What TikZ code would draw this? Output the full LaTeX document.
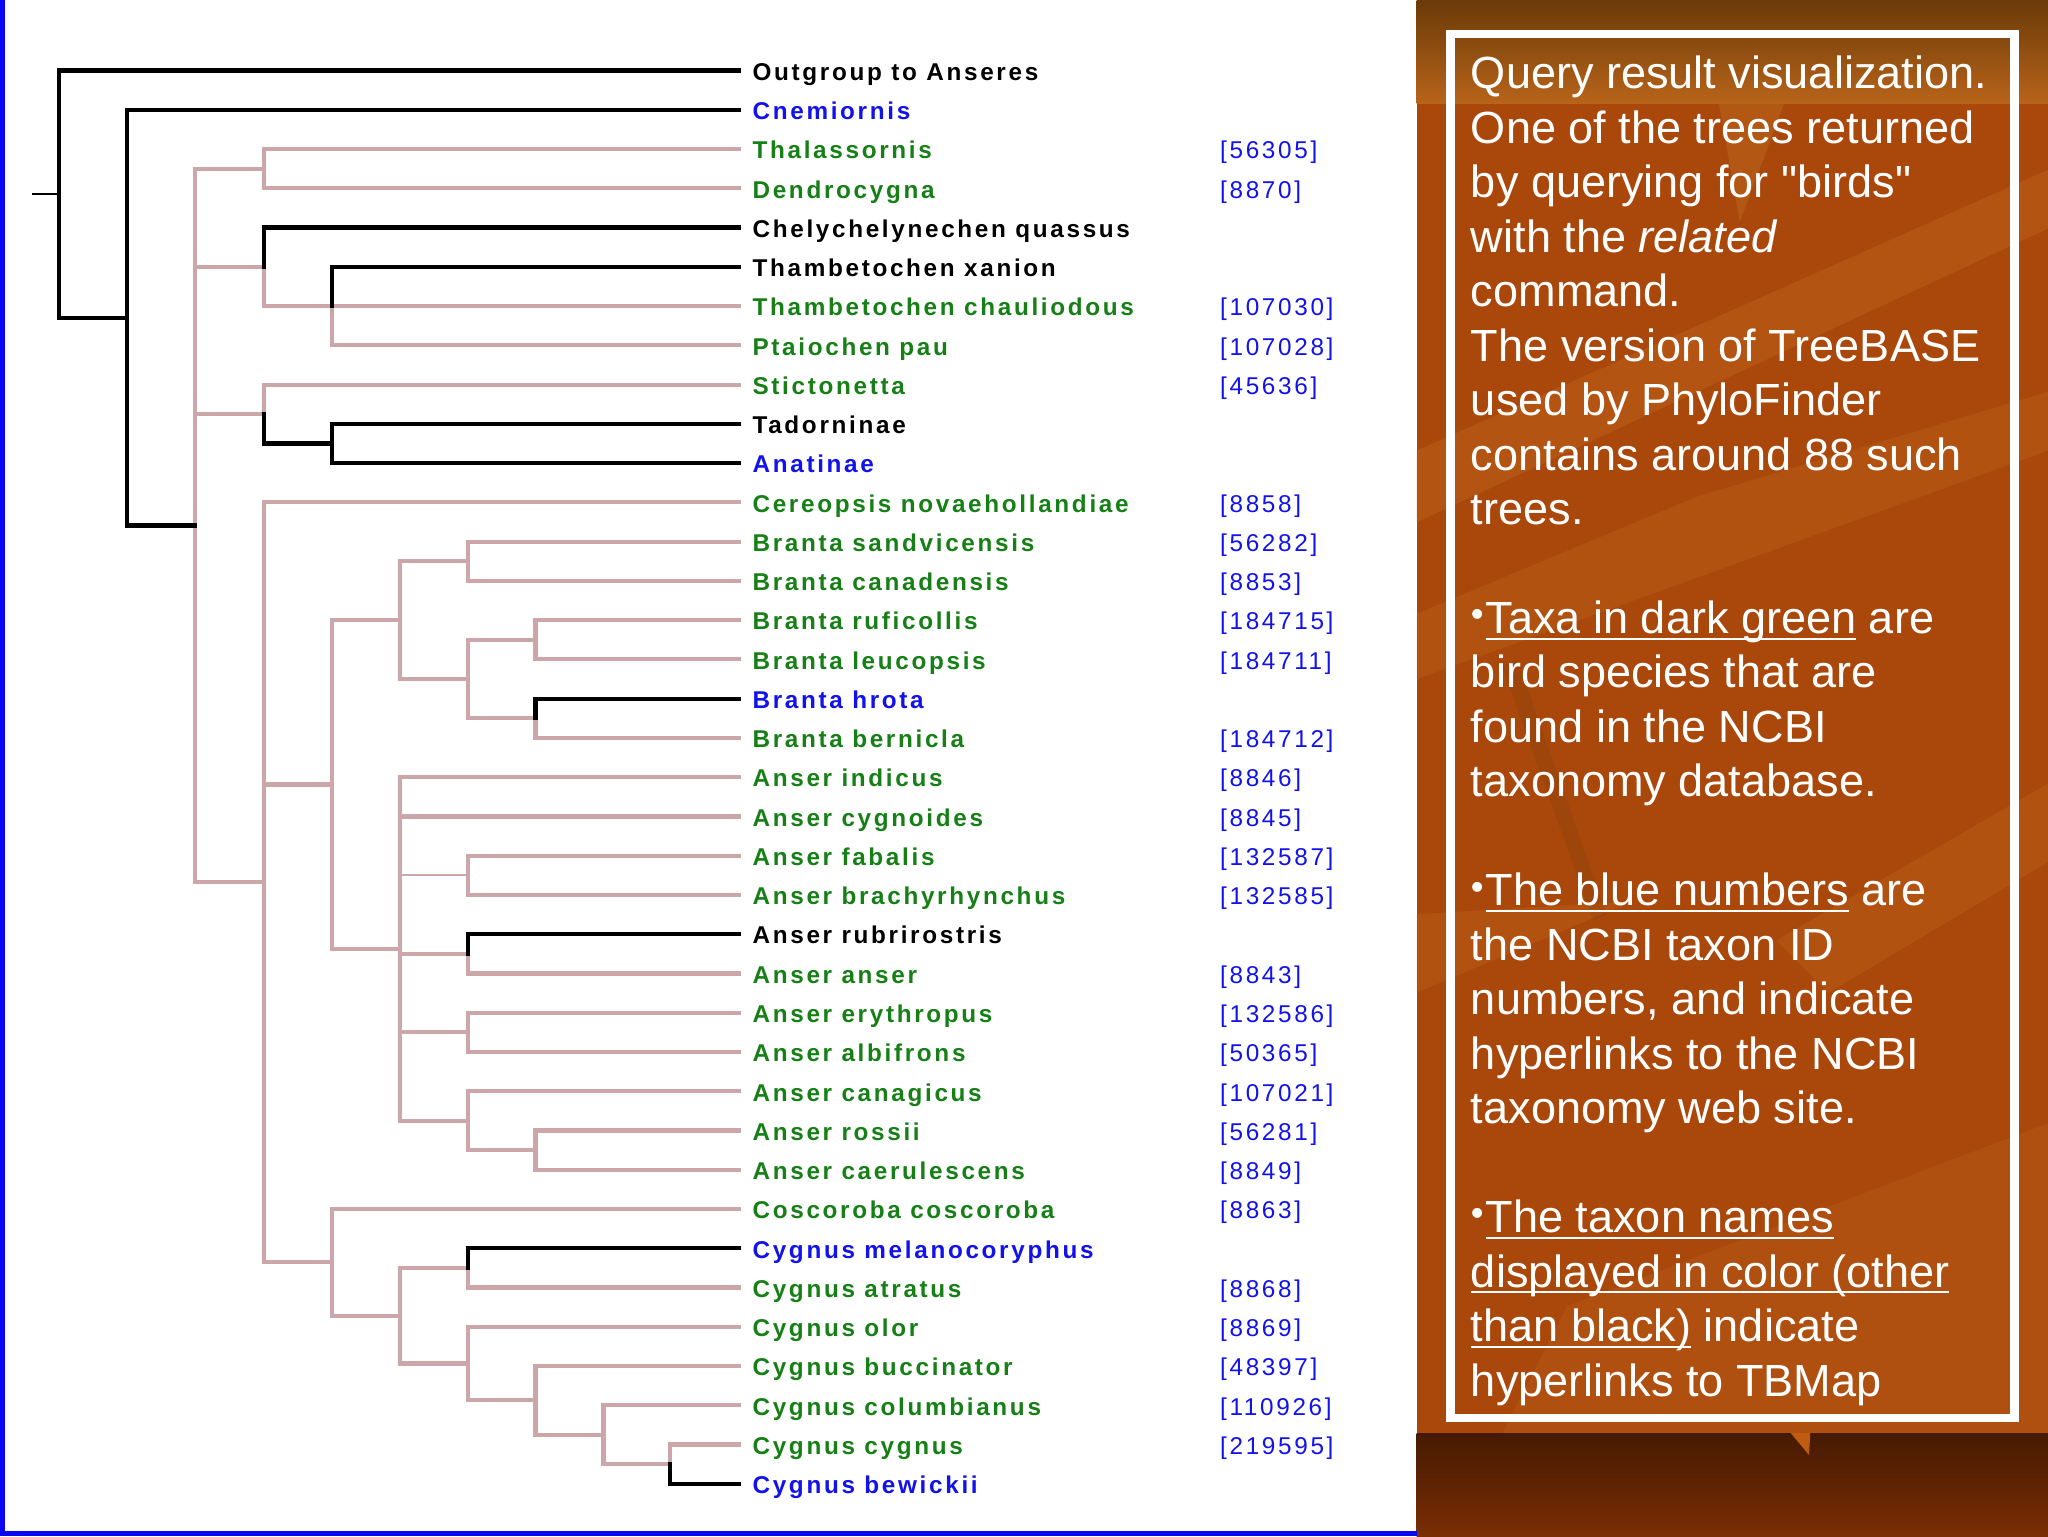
\documentclass[tikz,border=0pt]{standalone}
\usepackage{fontspec}
\setmainfont{Liberation Sans}
\newfontfamily\lblfont[LetterSpace=11]{Liberation Sans}
\definecolor{pinkline}{RGB}{205,166,170}
\definecolor{leafgreen}{RGB}{22,128,22}
\definecolor{linkblue}{RGB}{18,18,235}
\definecolor{framebl}{RGB}{8,8,245}
\definecolor{panelbase}{RGB}{170,72,12}
\definecolor{paneltop}{RGB}{106,58,8}
\definecolor{panelmid}{RGB}{184,100,26}
\definecolor{panellight}{RGB}{200,112,34}
\definecolor{panellow}{RGB}{192,92,18}
\definecolor{banddark}{RGB}{70,26,2}
\definecolor{bandlow}{RGB}{122,46,4}
\newsavebox\ulbox
\newcommand\ulx[1]{\sbox\ulbox{#1}\rlap{\rule[-4.8pt]{\wd\ulbox}{1.5pt}}\usebox\ulbox}
\newcommand\bul{\raisebox{5.2pt}{\fontsize{28}{28}\selectfont\textbullet}\kern1.5pt}
\newcommand\ry[1]{54+#1*30.056}
\newcommand\ly[1]{68+#1*41.7}
\tikzset{
  br/.style={line width=3.2pt, line cap=rect},
  bk/.style={br, draw=black},
  pk/.style={br, draw=pinkline},
  lbl/.style={anchor=west, inner sep=0pt, text height=17pt, text depth=2pt,
    font=\lblfont\bfseries\fontsize{18.6}{20}\selectfont},
  num/.style={anchor=west, inner sep=0pt, text height=17pt, text depth=2pt,
    font=\lblfont\fontsize{18.6}{20}\selectfont, text=linkblue},
  note/.style={anchor=base west, inner sep=0pt, text=white,
    font=\fontsize{34.5}{41.7}\selectfont}
}
\begin{document}
\begin{tikzpicture}[x=1pt,y=-1pt]
\useasboundingbox (0,0) rectangle (1568,1176);
\fill[white] (0,0) rectangle (1568,1176);
% ---------- right panel background ----------
\fill[panelbase] (1084.5,0) rectangle (1568,1097.6);
\shade[top color=paneltop, bottom color=panelmid] (1084.5,0) rectangle (1568,79);
\fill[panelmid, opacity=0.6] (1316,79) -- (1366,79) -- (1332,170) -- cycle;
\fill[panellight, opacity=0.3] (1084.5,345) -- (1568,130) -- (1568,175) -- (1084.5,400) -- cycle;
\fill[panellight, opacity=0.25] (1084.5,470) -- (1300,380) -- (1568,300) -- (1568,345) -- (1084.5,520) -- cycle;
\fill[panellight, opacity=0.25] (1360,720) -- (1568,600) -- (1568,660) -- (1400,760) -- cycle;
\fill[panellight, opacity=0.25] (1084.5,700) -- (1250,690) -- (1084.5,760) -- cycle;
\fill[panellight, opacity=0.22] (1200,1000) -- (1568,860) -- (1568,1097.6) -- (1150,1097.6) -- cycle;
\fill[paneltop, opacity=0.18] (1150,510) -- (1162,505) -- (1230,700) -- (1220,705) -- cycle;
\shade[top color=banddark, bottom color=bandlow] (1084.5,1097.6) rectangle (1568,1176);
\fill[panellow] (1371,1097.2) -- (1386,1097.2) -- (1385,1114) -- cycle;
\draw[white, line width=6.5pt] (1110.5,26) rectangle (1542.5,1085.6);
% ---------- blue border of the tree panel ----------
\fill[framebl] (0,0) rectangle (3.5,1176);
\fill[framebl] (0,1172) rectangle (1084.5,1176);
% ---------- taxon labels ----------
\node[lbl, text=black]     (L0)  at (576,{\ry{0}})  {Outgroup to Anseres};
\node[lbl, text=linkblue]  (L1)  at (576,{\ry{1}})  {Cnemiornis};
\node[lbl, text=leafgreen] (L2)  at (576,{\ry{2}})  {Thalassornis};
\node[lbl, text=leafgreen] (L3)  at (576,{\ry{3}})  {Dendrocygna};
\node[lbl, text=black]     (L4)  at (576,{\ry{4}})  {Chelychelynechen quassus};
\node[lbl, text=black]     (L5)  at (576,{\ry{5}})  {Thambetochen xanion};
\node[lbl, text=leafgreen] (L6)  at (576,{\ry{6}})  {Thambetochen chauliodous};
\node[lbl, text=leafgreen] (L7)  at (576,{\ry{7}})  {Ptaiochen pau};
\node[lbl, text=leafgreen] (L8)  at (576,{\ry{8}})  {Stictonetta};
\node[lbl, text=black]     (L9)  at (576,{\ry{9}})  {Tadorninae};
\node[lbl, text=linkblue]  (L10) at (576,{\ry{10}}) {Anatinae};
\node[lbl, text=leafgreen] (L11) at (576,{\ry{11}}) {Cereopsis novaehollandiae};
\node[lbl, text=leafgreen] (L12) at (576,{\ry{12}}) {Branta sandvicensis};
\node[lbl, text=leafgreen] (L13) at (576,{\ry{13}}) {Branta canadensis};
\node[lbl, text=leafgreen] (L14) at (576,{\ry{14}}) {Branta ruficollis};
\node[lbl, text=leafgreen] (L15) at (576,{\ry{15}}) {Branta leucopsis};
\node[lbl, text=linkblue]  (L16) at (576,{\ry{16}}) {Branta hrota};
\node[lbl, text=leafgreen] (L17) at (576,{\ry{17}}) {Branta bernicla};
\node[lbl, text=leafgreen] (L18) at (576,{\ry{18}}) {Anser indicus};
\node[lbl, text=leafgreen] (L19) at (576,{\ry{19}}) {Anser cygnoides};
\node[lbl, text=leafgreen] (L20) at (576,{\ry{20}}) {Anser fabalis};
\node[lbl, text=leafgreen] (L21) at (576,{\ry{21}}) {Anser brachyrhynchus};
\node[lbl, text=black]     (L22) at (576,{\ry{22}}) {Anser rubrirostris};
\node[lbl, text=leafgreen] (L23) at (576,{\ry{23}}) {Anser anser};
\node[lbl, text=leafgreen] (L24) at (576,{\ry{24}}) {Anser erythropus};
\node[lbl, text=leafgreen] (L25) at (576,{\ry{25}}) {Anser albifrons};
\node[lbl, text=leafgreen] (L26) at (576,{\ry{26}}) {Anser canagicus};
\node[lbl, text=leafgreen] (L27) at (576,{\ry{27}}) {Anser rossii};
\node[lbl, text=leafgreen] (L28) at (576,{\ry{28}}) {Anser caerulescens};
\node[lbl, text=leafgreen] (L29) at (576,{\ry{29}}) {Coscoroba coscoroba};
\node[lbl, text=linkblue]  (L30) at (576,{\ry{30}}) {Cygnus melanocoryphus};
\node[lbl, text=leafgreen] (L31) at (576,{\ry{31}}) {Cygnus atratus};
\node[lbl, text=leafgreen] (L32) at (576,{\ry{32}}) {Cygnus olor};
\node[lbl, text=leafgreen] (L33) at (576,{\ry{33}}) {Cygnus buccinator};
\node[lbl, text=leafgreen] (L34) at (576,{\ry{34}}) {Cygnus columbianus};
\node[lbl, text=leafgreen] (L35) at (576,{\ry{35}}) {Cygnus cygnus};
\node[lbl, text=linkblue]  (L36) at (576,{\ry{36}}) {Cygnus bewickii};
% ---------- NCBI ids ----------
\node[num] (I2)  at (934,{\ry{2}})  {[56305]};
\node[num] (I3)  at (934,{\ry{3}})  {[8870]};
\node[num] (I6)  at (934,{\ry{6}})  {[107030]};
\node[num] (I7)  at (934,{\ry{7}})  {[107028]};
\node[num] (I8)  at (934,{\ry{8}})  {[45636]};
\node[num] (I11) at (934,{\ry{11}}) {[8858]};
\node[num] (I12) at (934,{\ry{12}}) {[56282]};
\node[num] (I13) at (934,{\ry{13}}) {[8853]};
\node[num] (I14) at (934,{\ry{14}}) {[184715]};
\node[num] (I15) at (934,{\ry{15}}) {[184711]};
\node[num] (I17) at (934,{\ry{17}}) {[184712]};
\node[num] (I18) at (934,{\ry{18}}) {[8846]};
\node[num] (I19) at (934,{\ry{19}}) {[8845]};
\node[num] (I20) at (934,{\ry{20}}) {[132587]};
\node[num] (I21) at (934,{\ry{21}}) {[132585]};
\node[num] (I23) at (934,{\ry{23}}) {[8843]};
\node[num] (I24) at (934,{\ry{24}}) {[132586]};
\node[num] (I25) at (934,{\ry{25}}) {[50365]};
\node[num] (I26) at (934,{\ry{26}}) {[107021]};
\node[num] (I27) at (934,{\ry{27}}) {[56281]};
\node[num] (I28) at (934,{\ry{28}}) {[8849]};
\node[num] (I29) at (934,{\ry{29}}) {[8863]};
\node[num] (I31) at (934,{\ry{31}}) {[8868]};
\node[num] (I32) at (934,{\ry{32}}) {[8869]};
\node[num] (I33) at (934,{\ry{33}}) {[48397]};
\node[num] (I34) at (934,{\ry{34}}) {[110926]};
\node[num] (I35) at (934,{\ry{35}}) {[219595]};
% ---------- leaf tips ----------
\foreach \i in {0,...,36} { \coordinate (T\i) at ([xshift=-10pt]L\i.west); }
% ---------- internal nodes ----------
\coordinate (R)   at (45,{\ry{3.1475}});
\coordinate (stub) at (24.5,{\ry{3.1475}});
\coordinate (N1)  at (97,{\ry{6.295}});
\coordinate (N2)  at (149,{\ry{11.59}});
\coordinate (N3)  at (202,{\ry{2.5}});
\coordinate (N4)  at (202,{\ry{5}});
\coordinate (N5)  at (254,{\ry{6}});
\coordinate (N6)  at (202,{\ry{8.75}});
\coordinate (N7)  at (254,{\ry{9.5}});
\coordinate (N8)  at (202,{\ry{20.68}});
\coordinate (N9)  at (254,{\ry{18.1875}});
\coordinate (N10) at (254,{\ry{30.359}});
\coordinate (N11) at (306,{\ry{14}});
\coordinate (N12) at (358,{\ry{12.5}});
\coordinate (N13) at (358,{\ry{15.5}});
\coordinate (N14) at (410,{\ry{14.5}});
\coordinate (N15) at (410,{\ry{16.5}});
\coordinate (N16) at (306,{\ry{22.375}});
\coordinate (N17) at (358,{\ry{20.5}});
\coordinate (N18) at (358,{\ry{22.5}});
\coordinate (N19) at (358,{\ry{24.5}});
\coordinate (N20) at (358,{\ry{26.75}});
\coordinate (N21) at (410,{\ry{27.5}});
\coordinate (N22) at (306,{\ry{31.71875}});
\coordinate (N23) at (358,{\ry{30.5}});
\coordinate (N24) at (358,{\ry{32.9375}});
\coordinate (N25) at (410,{\ry{33.875}});
\coordinate (N26) at (462,{\ry{34.75}});
\coordinate (N27) at (513,{\ry{35.5}});
% ---------- pink branches ----------
\draw[pinkline, line width=1.3pt] (N16) |- (N17);
\foreach \a/\b in {N2/N3, N2/N4, N2/N6, N2/N8, N3/T2, N3/T3, N4/N5, N5/T6, N5/T7,
  N6/T8, N8/T11, N8/N9, N8/N10, N9/N11, N9/N16, N11/N12, N11/N13, N12/T12, N12/T13,
  N13/N14, N13/N15, N14/T14, N14/T15, N15/T17, N16/T18, N16/T19, N16/N18, N16/N19,
  N16/N20, N17/T20, N17/T21, N18/T23, N19/T24, N19/T25, N20/T26, N20/N21, N21/T27,
  N21/T28, N10/T29, N10/N22, N22/N23, N22/N24, N23/T31, N24/T32, N24/N25, N25/T33,
  N25/N26, N26/T34, N26/N27, N27/T35}
  { \draw[pk] (\a) |- (\b); }
% ---------- black branches ----------
\draw[black, line width=1.2pt] (stub) -- (R);
\foreach \a/\b in {R/T0, R/N1, N1/T1, N1/N2, N4/T4, N5/T5, N6/N7, N7/T9, N7/T10,
  N15/T16, N18/T22, N23/T30, N27/T36}
  { \draw[bk] (\a) |- (\b); }
% ---------- explanatory text ----------
\node[note] (t0)  at (1126,{\ly{0}})  {Query result visualization.};
\node[note] (t1)  at (1126,{\ly{1}})  {One of the trees returned};
\node[note] (t2)  at (1126,{\ly{2}})  {by querying for \textquotedbl birds\textquotedbl};
\node[note] (t3)  at (1126,{\ly{3}})  {with the \textit{related}};
\node[note] (t4)  at (1126,{\ly{4}})  {command.};
\node[note] (t5)  at (1126,{\ly{5}})  {The version of TreeBASE};
\node[note] (t6)  at (1126,{\ly{6}})  {used by PhyloFinder};
\node[note] (t7)  at (1126,{\ly{7}})  {contains around 88 such};
\node[note] (t8)  at (1126,{\ly{8}})  {trees.};
\node[note] (t10) at (1126,{\ly{10}}) {\bul\ulx{Taxa in dark green} are};
\node[note] (t11) at (1126,{\ly{11}}) {bird species that are};
\node[note] (t12) at (1126,{\ly{12}}) {found in the NCBI};
\node[note] (t13) at (1126,{\ly{13}}) {taxonomy database.};
\node[note] (t15) at (1126,{\ly{15}}) {\bul\ulx{The blue numbers} are};
\node[note] (t16) at (1126,{\ly{16}}) {the NCBI taxon ID};
\node[note] (t17) at (1126,{\ly{17}}) {numbers, and indicate};
\node[note] (t18) at (1126,{\ly{18}}) {hyperlinks to the NCBI};
\node[note] (t19) at (1126,{\ly{19}}) {taxonomy web site.};
\node[note] (t21) at (1126,{\ly{21}}) {\bul\ulx{The taxon names}};
\node[note] (t22) at (1126,{\ly{22}}) {\ulx{displayed in color (other}};
\node[note] (t23) at (1126,{\ly{23}}) {\ulx{than black)} indicate};
\node[note] (t24) at (1126,{\ly{24}}) {hyperlinks to TBMap};
\end{tikzpicture}
\end{document}
